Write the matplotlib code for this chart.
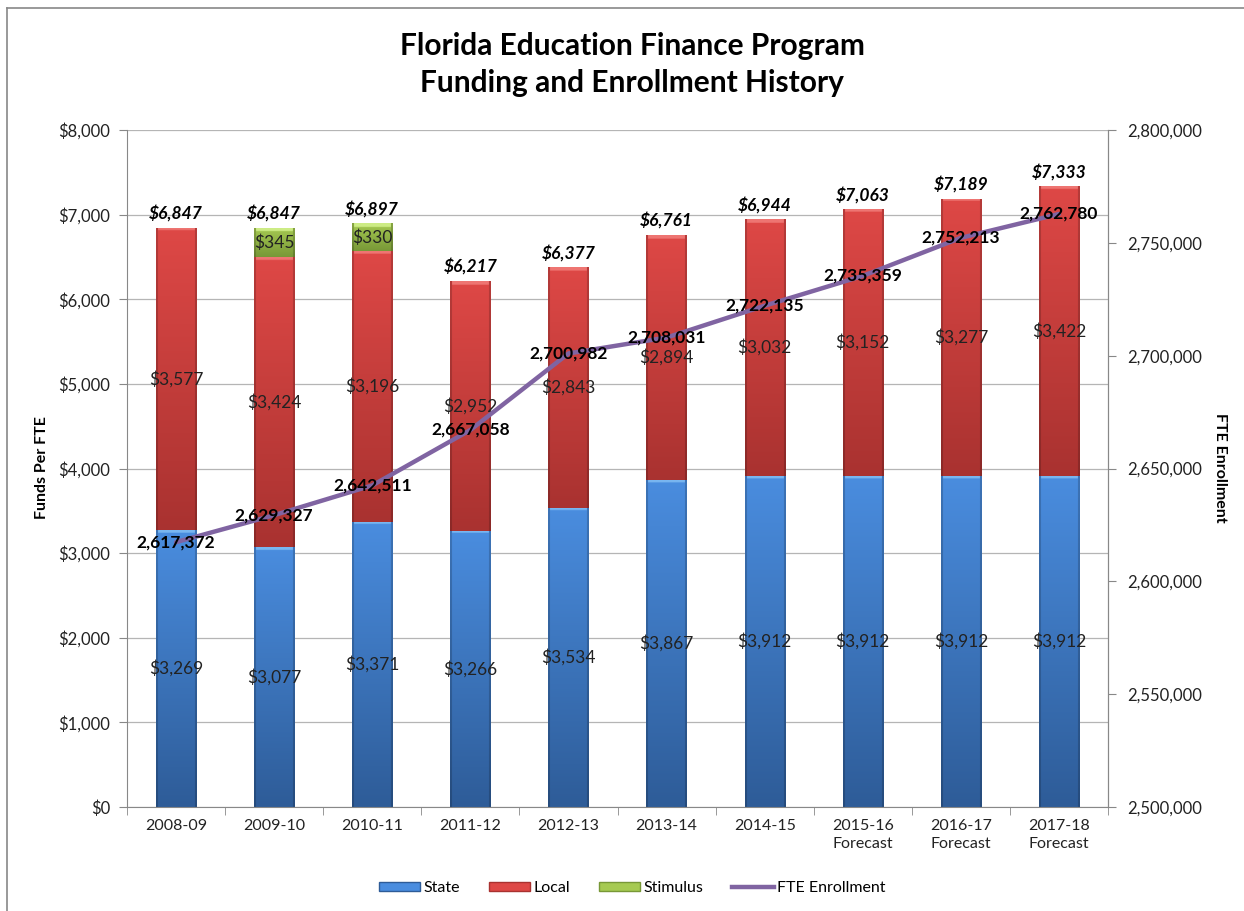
import numpy as np
import matplotlib.pyplot as plt
from matplotlib.patches import Patch
from matplotlib.lines import Line2D
from matplotlib.ticker import FuncFormatter, MultipleLocator
from matplotlib.colors import to_rgb

plt.rcParams['font.family'] = ['Lato', 'DejaVu Sans']

years = ["2008-09", "2009-10", "2010-11", "2011-12", "2012-13", "2013-14",
         "2014-15", "2015-16\nForecast", "2016-17\nForecast", "2017-18\nForecast"]
state = [3269, 3077, 3371, 3266, 3534, 3867, 3912, 3912, 3912, 3912]
local = [3577, 3424, 3196, 2952, 2843, 2894, 3032, 3152, 3277, 3422]
stimulus = [0, 345, 330, 0, 0, 0, 0, 0, 0, 0]
totals = [6847, 6847, 6897, 6217, 6377, 6761, 6944, 7063, 7189, 7333]
fte = [2617372, 2629327, 2642511, 2667058, 2700982, 2708031, 2722135,
       2735359, 2752213, 2762780]

# (top colour, bottom colour, bevel colour)
styles = {
    "State": ("#4a8ddf", "#2e5c98", "#79b6f0"),
    "Local": ("#de4846", "#a93230", "#ee7572"),
    "Stimulus": ("#a6ca52", "#789837", "#cdec85"),
}

fig = plt.figure(figsize=(12.44, 9.11), dpi=100)
ax = fig.add_axes([127 / 1244, 104 / 911, 981 / 1244, 677 / 911])

x = np.arange(len(years))
width = 0.41
px_per_unit = 677 / 8000


def shade(bars, key):
    top, bot, bev = [np.array(to_rgb(c)) for c in styles[key]]
    for b in bars:
        h = b.get_height()
        if h <= 0:
            continue
        ny, nx = 200, 40
        t = np.linspace(0, 1, ny)[:, None]
        img = top * (1 - t[..., None]) + bot * t[..., None]
        img = np.repeat(img, nx, axis=1)
        # darker side edges
        edge = np.ones(nx)
        edge[:2] = 0.82
        edge[-2:] = 0.82
        img = img * edge[None, :, None]
        nb = max(1, int(ny * 4 / (h * px_per_unit)))
        img[:nb, 2:-2] = bev
        x0 = b.get_x()
        y0 = b.get_y()
        im = ax.imshow(np.clip(img, 0, 1), extent=[x0, x0 + b.get_width(), y0, y0 + h],
                       aspect="auto", interpolation="bilinear", zorder=2)
        im.set_clip_path(b)


bot_local = np.array(state)
bot_stim = bot_local + np.array(local)
b1 = ax.bar(x, state, width, color=styles["State"][0], zorder=2, linewidth=0)
b2 = ax.bar(x, local, width, bottom=bot_local, color=styles["Local"][0], zorder=2, linewidth=0)
b3 = ax.bar(x, stimulus, width, bottom=bot_stim, color=styles["Stimulus"][0], zorder=2, linewidth=0)
shade(b1, "State")
shade(b2, "Local")
shade(b3, "Stimulus")

for i in range(len(years)):
    ax.text(x[i], state[i] / 2, f"${state[i]:,}", ha="center", va="center",
            fontsize=12.5, color="#222222", zorder=5)
    ax.text(x[i], state[i] + local[i] / 2, f"${local[i]:,}", ha="center", va="center",
            fontsize=12.5, color="#222222", zorder=5)
    if stimulus[i] > 0:
        ax.text(x[i], bot_stim[i] + stimulus[i] / 2, f"${stimulus[i]:,}", ha="center",
                va="center", fontsize=12.5, color="#222222", zorder=5)
    ax.text(x[i], bot_stim[i] + stimulus[i] + 70, f"${totals[i]:,}", ha="center",
            va="bottom", fontsize=12.5, fontweight="bold", fontstyle="italic", zorder=5)

ax.set_xlim(-0.5, len(years) - 0.5)
ax.set_ylim(0, 8000)
ax.yaxis.set_major_locator(MultipleLocator(1000))
ax.yaxis.set_major_formatter(FuncFormatter(lambda v, p: f"${v:,.0f}"))
ax.set_xticks(x)
ax.set_xticklabels(years, fontsize=11.5, color="#222222", linespacing=1.35)
ax.set_xticks(np.arange(-0.5, len(years)), minor=True)
ax.tick_params(axis="x", which="major", length=0, pad=9)
ax.tick_params(axis="x", which="minor", length=6, color="#888888")
ax.tick_params(axis="y", length=6, color="#888888", labelsize=12, labelcolor="#222222", pad=6)
ax.grid(axis="y", color="#b5b5b5", linewidth=0.9, zorder=0)
ax.set_axisbelow(True)
ax.spines["top"].set_visible(False)
for s in ["left", "bottom", "right"]:
    ax.spines[s].set_color("#888888")

ax2 = ax.twinx()
ax2.set_ylim(2500000, 2800000)
ax2.yaxis.set_major_locator(MultipleLocator(50000))
ax2.yaxis.set_major_formatter(FuncFormatter(lambda v, p: f"{v:,.0f}"))
ax2.tick_params(axis="y", length=6, color="#888888", labelsize=12, labelcolor="#222222", pad=8)
ax2.plot(x, fte, color="#8064a2", linewidth=3.2, zorder=3, solid_capstyle="round")
for i in range(len(years)):
    ax2.text(x[i], fte[i], f"{fte[i]:,}", ha="center", va="center", fontsize=12.5,
             fontweight="bold", zorder=6)
for s in ["top", "left", "bottom"]:
    ax2.spines[s].set_visible(False)
ax2.spines["right"].set_color("#888888")
ax2.set_zorder(ax.get_zorder() + 1)
ax2.patch.set_visible(False)

fig.text(42 / 1244, 1 - 468 / 911, "Funds Per FTE", rotation=90, ha="center", va="center",
         fontsize=11.5, fontweight="bold")
fig.text(1220 / 1244, 1 - 468 / 911, "FTE Enrollment", rotation=-90, ha="center", va="center",
         fontsize=11.5, fontweight="bold")

fig.text(0.508, 0.950, "Florida Education Finance Program", ha="center", va="center",
         fontsize=21.5, fontweight="bold")
fig.text(0.508, 0.909, "Funding and Enrollment History", ha="center", va="center",
         fontsize=21.5, fontweight="bold")

handles = [
    Patch(facecolor=styles["State"][0], edgecolor=styles["State"][1], label="State"),
    Patch(facecolor=styles["Local"][0], edgecolor=styles["Local"][1], label="Local"),
    Patch(facecolor=styles["Stimulus"][0], edgecolor=styles["Stimulus"][1], label="Stimulus"),
    Line2D([0], [0], color="#8064a2", linewidth=3.2, label="FTE Enrollment"),
]
fig.legend(handles=handles, loc="center", bbox_to_anchor=(0.508, 0.025), ncol=4,
           frameon=False, fontsize=11.5, handlelength=2.6, handleheight=0.5,
           handletextpad=0.2, columnspacing=1.8)

# chart border
fig.add_artist(Line2D([7 / 1244, 7 / 1244], [0, 1 - 8 / 911], color="#888888", linewidth=1.2))
fig.add_artist(Line2D([7 / 1244, 1], [1 - 8 / 911, 1 - 8 / 911], color="#888888", linewidth=1.2))

fig.savefig("out.png", dpi=100)
